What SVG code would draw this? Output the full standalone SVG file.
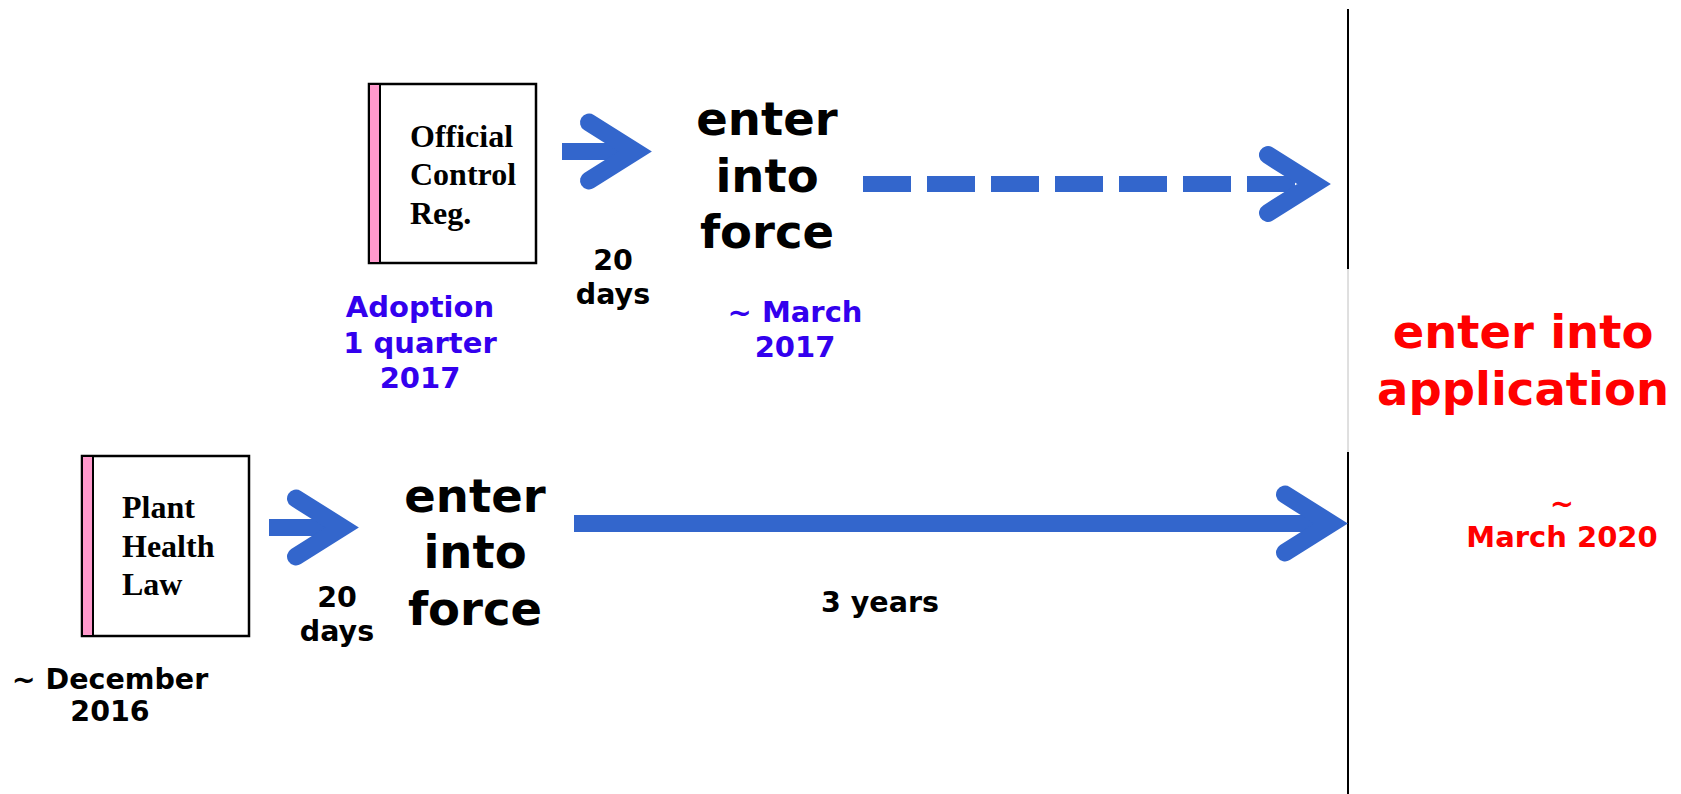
<svg xmlns="http://www.w3.org/2000/svg" xmlns:xlink="http://www.w3.org/1999/xlink" width="1681" height="794" viewBox="0 0 1681 794">
<style>
.doc{fill:#ffffff;stroke:#000000;stroke-width:2.5}
.spine{fill:#ff99cc;stroke:#000000;stroke-width:2}
.law{font-family:"Liberation Serif","Times New Roman",serif;font-weight:bold;font-size:32px;fill:#000000}
.big{font-family:"DejaVu Sans",Verdana,sans-serif;font-weight:bold;font-size:46.5px;fill:#000000;text-anchor:middle}
.small{font-family:"DejaVu Sans",Verdana,sans-serif;font-weight:bold;font-size:28.5px;fill:#000000;text-anchor:middle}
.blue{font-family:"DejaVu Sans",Verdana,sans-serif;font-weight:bold;font-size:29px;fill:#3300ee;text-anchor:middle}
.red{font-family:"DejaVu Sans",Verdana,sans-serif;font-weight:bold;fill:#ff0000;text-anchor:middle}
.shaft{stroke:#3366cc;stroke-width:17;fill:none}
.head{stroke:#3366cc;stroke-width:18;fill:none;stroke-linecap:round;stroke-linejoin:miter;stroke-miterlimit:4}
</style>
<defs>
<polyline id="ah" class="head" points="-63,-29 -17,0 -63,29"/>
</defs>
<rect width="1681" height="794" fill="#ffffff"/>

<g id="node-official-control">
<rect class="doc" x="369" y="84" width="167" height="179"/>
<rect class="spine" x="369" y="84" width="11" height="179"/>
<text class="law" x="410" y="147">Official</text>
<text class="law" x="410" y="185">Control</text>
<text class="law" x="410" y="224">Reg.</text>
</g>

<g id="node-plant-health">
<rect class="doc" x="82" y="456" width="167" height="180"/>
<rect class="spine" x="82" y="456" width="11" height="180"/>
<text class="law" x="122" y="518">Plant</text>
<text class="law" x="122" y="557">Health</text>
<text class="law" x="122" y="595">Law</text>
</g>

<g id="node-force-top">
<text class="big" x="767" y="135">enter</text>
<text class="big" x="767" y="192">into</text>
<text class="big" x="767" y="248">force</text>
</g>

<g id="node-force-bottom">
<text class="big" x="475" y="512">enter</text>
<text class="big" x="475" y="568">into</text>
<text class="big" x="475" y="625">force</text>
</g>

<g id="node-application">
<text class="red" x="1523" y="348" font-size="46.5">enter into</text>
<text class="red" x="1523" y="405" font-size="46.5">application</text>
<text class="red" x="1562" y="513" font-size="29">~</text>
<text class="red" x="1562" y="547" font-size="29">March 2020</text>
</g>

<g id="labels">
<text class="small" x="613" y="270">20</text>
<text class="small" x="613" y="304">days</text>
<text class="small" x="337" y="607">20</text>
<text class="small" x="337" y="641">days</text>
<text class="blue" x="420" y="317">Adoption</text>
<text class="blue" x="420" y="353">1 quarter</text>
<text class="blue" x="420" y="388">2017</text>
<text class="blue" x="795" y="322">~ March</text>
<text class="blue" x="795" y="357">2017</text>
<text class="small" x="110" y="689" font-size="30">~ December</text>
<text class="small" x="110" y="721" font-size="30">2016</text>
<text class="small" x="880" y="612" font-size="29">3 years</text>
</g>

<g id="timeline">
<line x1="1348" y1="9" x2="1348" y2="269" stroke="#000000" stroke-width="2"/>
<line x1="1348" y1="269" x2="1348" y2="452" stroke="#c0c0c0" stroke-width="1"/>
<line x1="1348" y1="452" x2="1348" y2="794" stroke="#000000" stroke-width="2"/>
</g>

<g id="connectors">
<line class="shaft" x1="562" y1="151.5" x2="636" y2="151.5"/>
<use xlink:href="#ah" href="#ah" transform="translate(652,151.5)"/>
<line class="shaft" x1="269" y1="527.5" x2="343" y2="527.5"/>
<use xlink:href="#ah" href="#ah" transform="translate(359,527.5)"/>
<line class="shaft" x1="574" y1="523.5" x2="1332" y2="523.5"/>
<use xlink:href="#ah" href="#ah" transform="translate(1348,523.5)"/>
<line x1="863" y1="184" x2="1313" y2="184" stroke="#3366cc" stroke-width="16" stroke-dasharray="48 16"/>
<line x1="1247" y1="184" x2="1295" y2="184" stroke="#3366cc" stroke-width="16"/>
<use xlink:href="#ah" href="#ah" transform="translate(1331,184)"/>
</g>
</svg>
